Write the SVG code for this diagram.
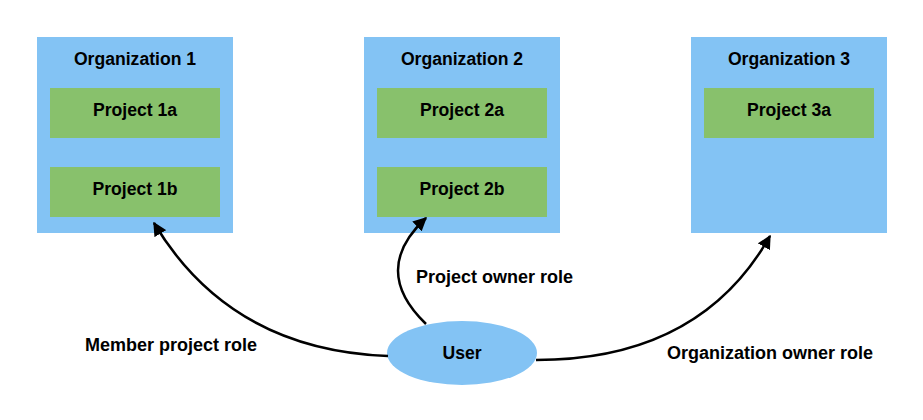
<svg xmlns="http://www.w3.org/2000/svg" width="923" height="420" viewBox="0 0 923 420">
<defs>
<style>
.org{fill:#83C3F4}
.proj{fill:#88C16C}
.user{fill:#83C3F4}
text{font-family:"Liberation Sans",Arial,sans-serif;font-weight:bold;font-size:17.6px;fill:#000;text-anchor:middle;dominant-baseline:central}
.lbl{text-anchor:start;font-size:18px}
.edge{fill:none;stroke:#000;stroke-width:2.5}
</style>
<marker id="arr" viewBox="0 0 10 10" refX="9" refY="5" markerWidth="5.5" markerHeight="5.5" orient="auto" markerUnits="strokeWidth">
<path d="M0,0 L10,5 L0,10 z" fill="#000"/>
</marker>
</defs>
<rect width="923" height="420" fill="#fff"/>
<g id="org1">
<rect class="org" x="37" y="37" width="196" height="196"/>
<text x="135" y="59">Organization 1</text>
</g>
<g id="p1a"><rect class="proj" x="50" y="88" width="170" height="50"/><text x="135" y="110">Project 1a</text></g>
<g id="p1b"><rect class="proj" x="50" y="167" width="170" height="50"/><text x="135" y="189">Project 1b</text></g>
<g id="org2">
<rect class="org" x="364" y="37" width="196" height="196"/>
<text x="462" y="59">Organization 2</text>
</g>
<g id="p2a"><rect class="proj" x="377" y="88" width="170" height="50"/><text x="462" y="110">Project 2a</text></g>
<g id="p2b"><rect class="proj" x="377" y="167" width="170" height="50"/><text x="462" y="189">Project 2b</text></g>
<g id="org3">
<rect class="org" x="691" y="37" width="196" height="196"/>
<text x="789" y="59">Organization 3</text>
</g>
<g id="p3a"><rect class="proj" x="704" y="88" width="170" height="50"/><text x="789" y="110">Project 3a</text></g>
<g id="user">
<ellipse class="user" cx="462" cy="353" rx="75" ry="32"/>
<text x="462" y="353">User</text>
</g>
<g id="connectors">
<path class="edge" d="M388,356 Q230,350 154,223" marker-end="url(#arr)"/>
<path class="edge" d="M426,324 Q370,270 426,218" marker-end="url(#arr)"/>
<path class="edge" d="M536,360 Q700,360 770,236" marker-end="url(#arr)"/>
</g>
<g id="labels">
<text class="lbl" x="85" y="345">Member project role</text>
<text class="lbl" x="416" y="277">Project owner role</text>
<text class="lbl" x="667" y="353">Organization owner role</text>
</g>
</svg>
